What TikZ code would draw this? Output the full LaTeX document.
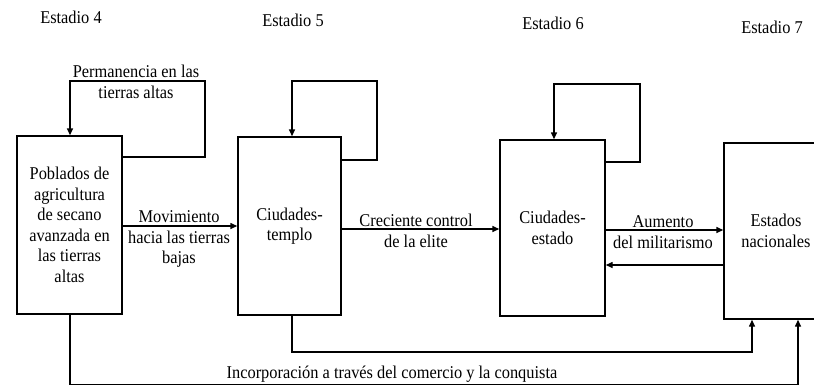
\documentclass[tikz,border=0pt]{standalone}
\usepackage{fontspec}
\setmainfont[FakeStretch=0.91]{Liberation Serif}
\usetikzlibrary{arrows.meta}
\begin{document}
\begin{tikzpicture}[x=1pt,y=-1pt,
  every node/.style={font=\fontsize{18}{20.5}\selectfont, inner sep=0pt},
  box/.style={draw, line width=1.4pt, align=center},
  conn/.style={line width=1.4pt, -{Triangle[length=7pt,width=6pt]}},
  lbl/.style={align=center}]
\useasboundingbox (0,0) rectangle (814,386);
% stage labels
\node (e4) at (71,17) {Estadio 4};
\node (e5) at (293,20) {Estadio 5};
\node (e6) at (553,23) {Estadio 6};
\node (e7) at (772,27) {Estadio 7};
% boxes
\node[box, minimum width=105pt, minimum height=178pt] (b1) at (69.5,225)
  {Poblados de\\agricultura\\de secano\\avanzada en\\las tierras\\altas};
\node[box, minimum width=103pt, minimum height=178pt] (b2) at (289.5,226)
  {Ciudades-\\templo};
\node[box, minimum width=105pt, minimum height=176pt] (b3) at (552.5,228)
  {Ciudades-\\estado};
\node[box, minimum width=104pt, minimum height=176pt] (b4) at (776,231)
  {Estados\\nacionales};
% loops
\draw[conn] (b1.east |- 0,157) -| (205,81) -| (b1.north -| 70,0);
\node[lbl] (l1) at (136,82) {Permanencia en las\\tierras altas};
\draw[conn] (b2.east |- 0,160) -| (377,81) -| (b2.north -| 292,0);
\draw[conn] (b3.east |- 0,162) -| (640,84) -| (b3.north -| 554,0);
% horizontal arrows
\draw[conn] (b1.east |- 0,226) -- (b2.west |- 0,226);
\node[lbl] (l2) at (179,239) {Movimiento\\hacia las tierras\\bajas};
\draw[conn] (b2.east |- 0,229) -- (b3.west |- 0,229);
\node[lbl] (l3) at (416,231) {Creciente control\\de la elite};
\draw[conn] (b3.east |- 0,230) -- (b4.west |- 0,230);
\draw[conn] (b4.west |- 0,265) -- (b3.east |- 0,265);
\node[lbl] (l4) at (663,232) {Aumento\\del militarismo};
% bottom connectors
\draw[conn] (b2.south -| 292,0) |- (752,352) -- (b4.south -| 752,0);
\draw[conn] (b1.south -| 70,0) |- (798,384.5) -- (b4.south -| 798,0);
\node (l5) at (392,374) {Incorporación a través del comercio y la conquista};
\end{tikzpicture}
\end{document}
